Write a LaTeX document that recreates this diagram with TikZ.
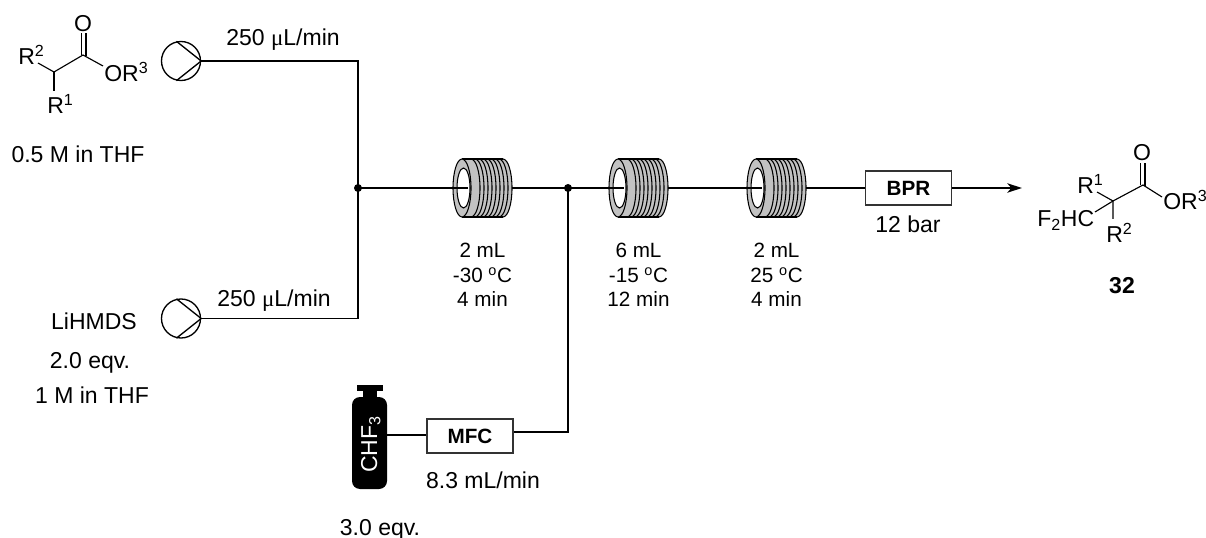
\documentclass[tikz,border=0pt]{standalone}
\usepackage{fontspec}
\setmainfont{Liberation Sans}
\newfontfamily\symfont{Liberation Serif}
\usetikzlibrary{arrows.meta,positioning,calc}
\definecolor{coilgray}{gray}{0.76}
\newcommand{\drawcoil}[1]{%
  \begin{scope}[shift={(#1.center)}]
    \fill[coilgray] (-20.5,-29) -- (20.5,-29) arc[start angle=90,end angle=-90,x radius=9,y radius=-29]
      -- (-20.5,29) arc[start angle=270,end angle=90,x radius=9,y radius=-29] -- cycle;
    \foreach \i in {0,...,8}
      \draw[rib] (-11.5+4*\i,-29) arc[start angle=90,end angle=-90,x radius=9,y radius=-29];
    \draw[rib] (-20.5,-29) -- (20.5,-29) (-20.5,29) -- (20.5,29);
    \draw[rib,fill=coilgray] (-20.5,0) ellipse[x radius=9,y radius=29];
    \draw[rib,fill=white] (-19,0) ellipse[x radius=6.5,y radius=20];
  \end{scope}}
\begin{document}
\begin{tikzpicture}[x=0.75pt,y=-0.75pt,font=\fontsize{17.25}{18}\selectfont]
\tikzset{
  pump/.style ={draw, circle, line width=1pt, minimum size=29.25pt, inner sep=0pt},
  coilbox/.style={minimum width=44.25pt, minimum height=43.5pt, inner sep=0pt},
  ctrl/.style ={draw=black!80, line width=1pt, minimum width=64.5pt, minimum height=25.5pt, inner sep=0pt, font=\fontsize{15.5}{18}\selectfont\bfseries},
  lab/.style  ={anchor=base, inner sep=0pt},
  cond/.style ={align=center, inner sep=0pt, font=\fontsize{15.5}{18.6}\selectfont},
  jn/.style   ={circle, fill=black, minimum size=6pt, inner sep=0pt},
  rib/.style  ={line width=0.8pt},
  bond/.style ={line width=0.85pt},
  flow/.style ={line width=1.4pt},
  aO/.style   ={-{Stealth[length=11pt,width=7pt,inset=3pt]},line width=1.4pt}
}
\useasboundingbox (0,0) rectangle (1206,538);
\node (pumpA)[pump] at (181,61) {};
\node (pumpB)[pump] at (181,318.5) {};
\foreach \n in {pumpA,pumpB}
  \draw[line width=1pt] (\n.103) -- (\n.east) -- (\n.257);
\node (jA)[jn] at (358,188) {};
\node (jB)[jn] at (568,188) {};
\node (coil1)[coilbox] at (482.5,188) {};
\node (coil2)[coilbox] at (638.5,188) {};
\node (coil3)[coilbox] at (776.5,188) {};
\drawcoil{coil1} \drawcoil{coil2} \drawcoil{coil3}
\coordinate (coil1in) at ($(coil1.center)+(-14.5,0)$);
\coordinate (coil2in) at ($(coil2.center)+(-14.5,0)$);
\coordinate (coil3in) at ($(coil3.center)+(-14.5,0)$);
\coordinate (coil1out) at ($(coil1.center)+(29.5,0)$);
\coordinate (coil2out) at ($(coil2.center)+(29.5,0)$);
\coordinate (coil3out) at ($(coil3.center)+(29.5,0)$);
\node (bpr)[ctrl] at (908.5,188) {BPR};
\node (mfc)[ctrl] at (470,436) {MFC};
\coordinate (prod) at (1022,188);
\fill (357,385) rectangle (383,391);
\fill (363,390) rectangle (377,399);
\fill[rounded corners=6pt] (352,489) -- (352,397) -- (387,397) -- (387,489) -- cycle;
\coordinate (tank) at (387,435);
\coordinate (mfcout) at ([yshift=3pt]mfc.east);
\node[lab,anchor=base west,rotate=90,text=white] (chf) at (377,473) {CHF\textsubscript{3}};
\draw[flow] (pumpA.east) -| (jA.center);
\draw[flow] (pumpB.east) -| (jA.center);
\draw[flow] (jA.center) -- (coil1in);
\draw[flow] (coil1out) -- (coil2in);
\draw[flow] (coil2out) -- (coil3in);
\draw[flow] (coil3out) -- (bpr.west);
\draw[aO] (bpr.east) -- (prod);
\draw[flow] (jB.center) |- (mfcout);
\draw[flow] (tank) -- (tank -| mfc.west);
\node[lab] (rateA) at (283,46) {250 {\symfont μ}L/min};
\node[lab] (rateB) at (274,306) {250 {\symfont μ}L/min};
\node[cond,below=19pt of coil1.south] (c1) {2 mL\\-30 \textsuperscript{o}C\\4 min};
\node[cond,below=19pt of coil2.south] (c2) {6 mL\\-15 \textsuperscript{o}C\\12 min};
\node[cond,below=19pt of coil3.south] (c3) {2 mL\\25 \textsuperscript{o}C\\4 min};
\node[lab] (barl) at (908,233) {12 bar};
\node[lab] (mfcl) at (483,488) {8.3 mL/min};
\node[lab] (eqC) at (380,535) {3.0 eqv.};
\node[lab] (conA) at (78,163) {0.5 M in THF};
\node[lab] (baseN) at (94,329) {LiHMDS};
\node[lab] (eqB) at (90,368) {2.0 eqv.};
\node[lab] (conB) at (92,403) {1 M in THF};
\node[lab] (oA) at (83,32) {O};
\node[lab,anchor=base west] (orA) at (104,82) {OR\textsuperscript{3}};
\node[lab,anchor=base west] (rtwoA) at (18,65) {R\textsuperscript{2}};
\node[lab,anchor=base west] (roneA) at (47,114) {R\textsuperscript{1}};
\coordinate (caA) at (54,72);
\coordinate (coA) at (83,55);
\draw[bond] (38,63) -- (caA) -- (coA) -- (103,66);
\draw[bond] (caA) -- (54,91);
\draw[bond] (81.5,55) -- (81.5,33) (86,56) -- (86,33);
\node[lab] (oB) at (1142,161) {O};
\node[lab,anchor=base west] (orB) at (1163,210) {OR\textsuperscript{3}};
\node[lab,anchor=base west] (roneB) at (1077,194) {R\textsuperscript{1}};
\node[lab,anchor=base west] (rtwoB) at (1106,243) {R\textsuperscript{2}};
\node[lab,anchor=base west] (fhc) at (1037,227) {F\textsubscript{2}HC};
\node[lab,font=\fontsize{17.25}{18}\selectfont\bfseries] (cmpd) at (1122,293) {32};
\coordinate (caB) at (1113,201);
\coordinate (coB) at (1143,185);
\draw[bond] (1095,212) -- (caB) -- (coB) -- (1162,197);
\draw[bond] (1097,192) -- (caB) -- (1113,219);
\draw[bond] (1140.5,185) -- (1140.5,163) (1145,186) -- (1145,163);
\end{tikzpicture}
\end{document}
